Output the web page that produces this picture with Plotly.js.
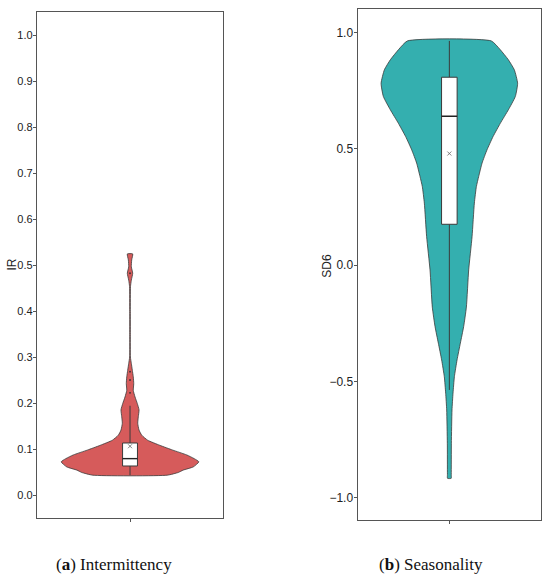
<!DOCTYPE html>
<html>
<head>
<meta charset="utf-8">
<script src="https://cdn.plot.ly/plotly-3.0.1.min.js"></script>
<style>html,body{margin:0;padding:0;background:#fff;}#chart{width:550px;height:577px;}</style>
</head>
<body>
<div id="chart"></div>
<script>
// ---- Panel (a): Intermittency (IR) violin profile ----
const irLevels    = [0.044, 0.050, 0.055, 0.062, 0.073, 0.080, 0.088, 0.0985, 0.109, 0.120, 0.131, 0.142, 0.157, 0.171, 0.186, 0.200, 0.214, 0.2285, 0.243, 0.258, 0.272, 0.287, 0.301, 0.350, 0.400, 0.454, 0.468, 0.483, 0.497, 0.512, 0.525];
const irHalfWidth = [0.40, 0.52, 0.57, 0.68, 0.74, 0.69, 0.61, 0.46, 0.32, 0.19, 0.126, 0.097, 0.083, 0.089, 0.097, 0.078, 0.054, 0.035, 0.040, 0.035, 0.025, 0.014, 0.004, 0.003, 0.003, 0.005, 0.014, 0.029, 0.014, 0.018, 0.029];
// box: lower whisker, q1, median, q3, upper whisker
const irBoxStats  = [0.044, 0.064, 0.080, 0.114, 0.195];
const irMean      = [0.107];
const irOutliers  = [0.223, 0.251, 0.269, 0.483];

// ---- Panel (b): Seasonality (SD6) violin profile ----
const sdLevels    = [-0.916, -0.900, -0.765, -0.622, -0.550, -0.479, -0.407, -0.335, -0.264, -0.180, -0.020, 0.123, 0.267, 0.338, 0.381, 0.439, 0.496, 0.553, 0.610, 0.668, 0.725, 0.782, 0.840, 0.883, 0.926, 0.964];
const sdHalfWidth = [0.020, 0.021, 0.022, 0.029, 0.040, 0.055, 0.084, 0.120, 0.156, 0.186, 0.211, 0.248, 0.273, 0.295, 0.320, 0.357, 0.411, 0.477, 0.556, 0.644, 0.720, 0.745, 0.709, 0.644, 0.556, 0.458];
const sdBoxStats  = [-0.536, 0.176, 0.640, 0.808, 0.964];
const sdMean      = [0.480];

const irColor = '#D65B5B';
const sdColor = '#34AFAF';
const outline = '#3a3a3a';

function violinTrace(levels, hw, color, xa, ya) {
  const xs = [], ys = [];
  for (let i = 0; i < levels.length; i++) { xs.push(hw[i]); ys.push(levels[i]); }
  for (let i = levels.length - 1; i >= 0; i--) { xs.push(-hw[i]); ys.push(levels[i]); }
  xs.push(hw[0]); ys.push(levels[0]);
  return {type:'scatter', mode:'lines', x:xs, y:ys, xaxis:xa, yaxis:ya,
    fill:'toself', fillcolor:color, line:{color:outline, width:0.8, shape:'spline', smoothing:0.5},
    hoverinfo:'skip'};
}

// box drawn with scatter so that it sits above the filled violin
function boxTraces(s, halfW, xa, ya) {
  const ln = {color:outline, width:1};
  return [
    {type:'scatter', mode:'lines', x:[0, 0, null, 0, 0], y:[s[0], s[1], null, s[3], s[4]],
     xaxis:xa, yaxis:ya, line:ln, hoverinfo:'skip'},
    {type:'scatter', mode:'lines', x:[-halfW, halfW, halfW, -halfW, -halfW], y:[s[1], s[1], s[3], s[3], s[1]],
     xaxis:xa, yaxis:ya, fill:'toself', fillcolor:'#ffffff', line:ln, hoverinfo:'skip'},
    {type:'scatter', mode:'lines', x:[-halfW, halfW], y:[s[2], s[2]],
     xaxis:xa, yaxis:ya, line:{color:'#222', width:1.4}, hoverinfo:'skip'}
  ];
}

const traces = [].concat(
  [violinTrace(irLevels, irHalfWidth, irColor, 'x', 'y')],
  boxTraces(irBoxStats, 0.08, 'x', 'y'),
  [{type:'scatter', mode:'markers', x:irMean.map(()=>0), y:irMean, xaxis:'x', yaxis:'y',
    marker:{symbol:'x-thin', size:4, line:{color:'#666', width:0.8}}, hoverinfo:'skip'},
   {type:'scatter', mode:'markers', x:irOutliers.map(()=>0), y:irOutliers, xaxis:'x', yaxis:'y',
    marker:{symbol:'circle', size:1.8, color:'#333'}, hoverinfo:'skip'}],
  [violinTrace(sdLevels, sdHalfWidth, sdColor, 'x2', 'y2')],
  boxTraces(sdBoxStats, 0.085, 'x2', 'y2'),
  [{type:'scatter', mode:'markers', x:sdMean.map(()=>0), y:sdMean, xaxis:'x2', yaxis:'y2',
    marker:{symbol:'x-thin', size:4, line:{color:'#666', width:0.8}}, hoverinfo:'skip'}]
);

const axisCommon = {showline:true, mirror:true, linecolor:'#555', linewidth:1.2,
  showgrid:false, zeroline:false, ticks:'outside', ticklen:3, tickcolor:'#555', tickwidth:1, fixedrange:true};

const layout = {
  width:550, height:577, margin:{l:0, r:0, t:0, b:0},
  paper_bgcolor:'#ffffff', plot_bgcolor:'#ffffff', showlegend:false,
  font:{family:'Liberation Sans, Arial, sans-serif', color:'#222'},
  xaxis: Object.assign({}, axisCommon, {domain:[0.0673, 0.4055], range:[-1, 1], tickvals:[0], ticktext:[''], anchor:'y'}),
  yaxis: Object.assign({}, axisCommon, {domain:[0.1023, 0.9792], range:[-0.049, 1.051], tick0:0, dtick:0.1, tickformat:'.1f',
    tickfont:{size:11, color:'#222'}, ticklabelstandoff:-2, anchor:'x'}),
  xaxis2: Object.assign({}, axisCommon, {domain:[0.6504, 0.9836], range:[-1, 1], tickvals:[0], ticktext:[''], anchor:'y2'}),
  yaxis2: Object.assign({}, axisCommon, {domain:[0.0988, 0.9839], range:[-1.095, 1.10], tick0:0, dtick:0.5, tickformat:'.1f',
    tickfont:{size:12, color:'#222'}, ticklabelstandoff:-2, anchor:'x2'}),
  annotations: [
    {text:'IR', xref:'paper', yref:'paper', x:11.5/550, y:1-265/577, showarrow:false, textangle:-90,
     xanchor:'center', yanchor:'middle', font:{size:12, color:'#222'}},
    {text:'SD6', xref:'paper', yref:'paper', x:326.7/550, y:1-266/577, showarrow:false, textangle:-90,
     xanchor:'center', yanchor:'middle', font:{size:12, color:'#222'}},
    {text:'(<b>a</b>) Intermittency', xref:'paper', yref:'paper', x:113.7/550, y:1-564/577, showarrow:false,
     xanchor:'center', yanchor:'middle', font:{family:'Liberation Serif, DejaVu Serif, serif', size:17, color:'#111'}},
    {text:'(<b>b</b>) Seasonality', xref:'paper', yref:'paper', x:431/550, y:1-564/577, showarrow:false,
     xanchor:'center', yanchor:'middle', font:{family:'Liberation Serif, DejaVu Serif, serif', size:17, color:'#111'}}
  ]
};

Plotly.newPlot('chart', traces, layout, {staticPlot:true, displayModeBar:false});
</script>
</body>
</html>
